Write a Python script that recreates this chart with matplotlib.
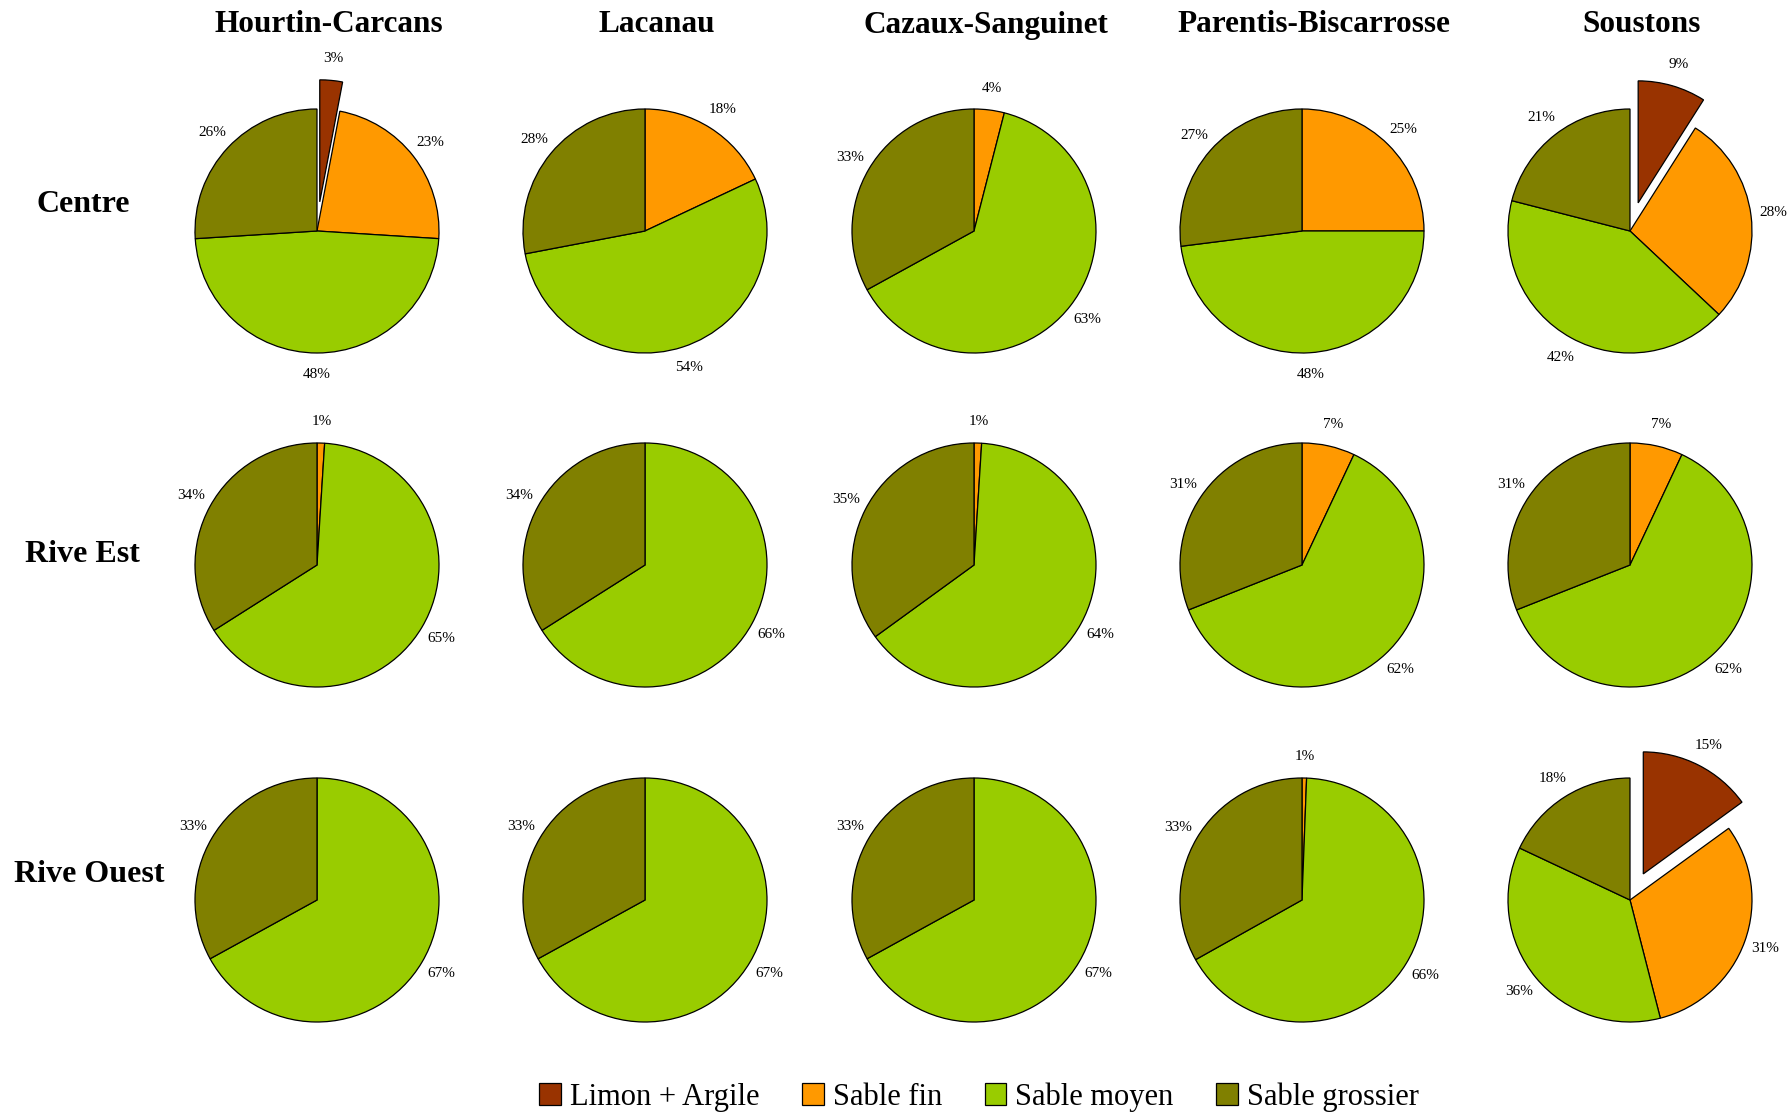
import matplotlib.pyplot as plt

plt.rcParams['font.family'] = ['Liberation Serif', 'DejaVu Serif']

sites = ["Hourtin-Carcans", "Lacanau", "Cazaux-Sanguinet", "Parentis-Biscarrosse", "Soustons"]
zones = ["Centre", "Rive Est", "Rive Ouest"]
classes = ["Limon + Argile", "Sable fin", "Sable moyen", "Sable grossier"]
colors = ["#993300", "#FF9900", "#99CC00", "#808000"]

# % per zone (rows) and site (columns)
limon = [[3, 0, 0, 0, 9],
         [0, 0, 0, 0, 0],
         [0, 0, 0, 0, 15]]
fin = [[23, 18, 4, 25, 28],
       [1, 0, 1, 7, 7],
       [0, 0, 0, 0.6, 31]]
moyen = [[48, 54, 63, 48, 42],
         [65, 66, 64, 62, 62],
         [67, 67, 67, 66, 36]]
grossier = [[26, 28, 33, 27, 21],
            [34, 34, 35, 31, 31],
            [33, 33, 33, 33, 18]]

W, H = 1792, 1113
fig = plt.figure(figsize=(W / 100, H / 100), dpi=100)

col_x = [317, 645, 974, 1302, 1630]
row_y = [231, 565, 900]
r_px = 122
box = 340  # axes size in px
lim = (box / 2) / r_px

for i, zone in enumerate(zones):
    for j, site in enumerate(sites):
        cx, cy = col_x[j], row_y[i]
        ax = fig.add_axes([(cx - box / 2) / W, 1 - (cy + box / 2) / H, box / W, box / H])
        vals = [limon[i][j], fin[i][j], moyen[i][j], grossier[i][j]]
        keep = [k for k in range(4) if vals[k] > 0]
        v = [vals[k] for k in keep]
        c = [colors[k] for k in keep]
        ex = [0.24 if k == 0 else 0 for k in keep]
        ax.pie(v, colors=c, explode=ex, startangle=90, counterclock=False,
               autopct='%.0f%%', pctdistance=1.18,
               wedgeprops=dict(edgecolor='black', linewidth=0.9),
               textprops=dict(fontsize=11, color='black'))
        ax.set_xlim(-lim, lim)
        ax.set_ylim(-lim, lim)
        ax.set_aspect('equal')

# column titles sit a little right of the pie centres
for j, site in enumerate(sites):
    fig.text((col_x[j] + 12) / W, 1 - 25 / H, site, ha='center', va='center',
             fontsize=22.5, fontweight='bold')

row_lbl_x = [83, 82, 89]
row_lbl_y = [204, 555, 875]
for i, zone in enumerate(zones):
    fig.text(row_lbl_x[i] / W, 1 - row_lbl_y[i] / H, zone, ha='center', va='center',
             fontsize=23, fontweight='bold')

handles = [plt.Rectangle((0, 0), 1, 1, facecolor=col, edgecolor='black', linewidth=0.9)
           for col in colors]
fig.legend(handles, classes, loc='center', bbox_to_anchor=(979 / W, 1 - 1097 / H), ncol=4,
           frameon=False, fontsize=22, handlelength=0.7, handleheight=0.75,
           handletextpad=0.3, columnspacing=1.4)

fig.savefig("out.png", dpi=100)
